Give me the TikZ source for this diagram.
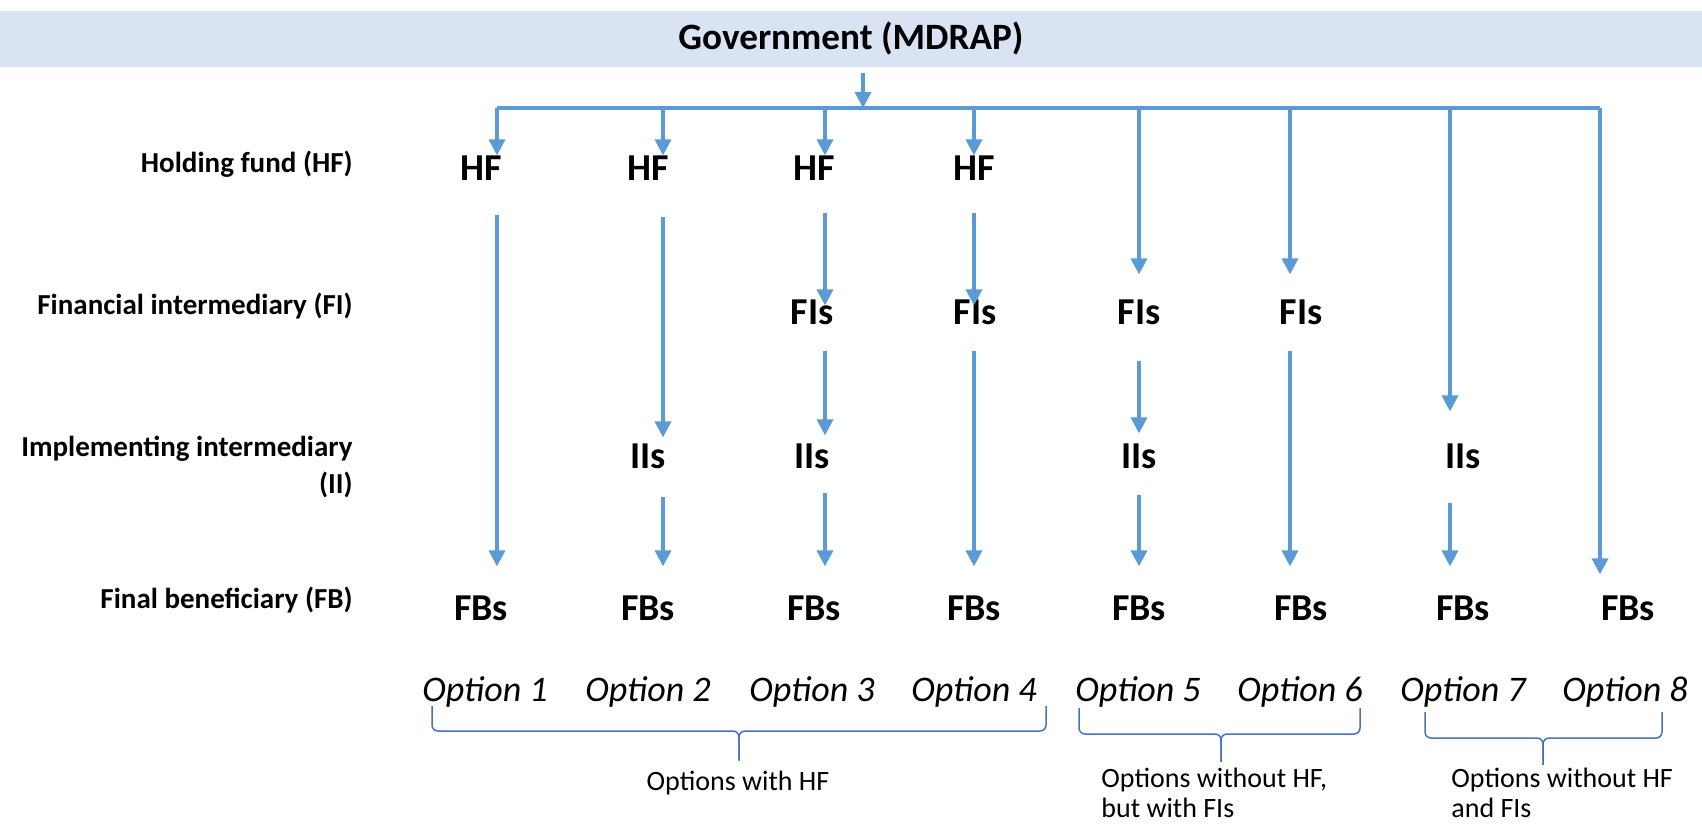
\documentclass[tikz,border=0pt]{standalone}
\usepackage{fontspec}
\setmainfont{Carlito}
\usetikzlibrary{arrows.meta}

\definecolor{flowblue}{HTML}{5B9BD5}
\definecolor{bannerblue}{HTML}{DAE3F3}
\definecolor{bracketblue}{HTML}{4472C4}

\tikzset{
  banner/.style={fill=bannerblue, minimum width=851pt, minimum height=28pt, inner sep=0pt, font=\fontsize{18.6}{20}\selectfont\bfseries},
  rowlab/.style={anchor=east, align=right, inner sep=0pt, font=\fontsize{14.5}{18.5}\selectfont\bfseries},
  lvl/.style={inner sep=0pt, text height=12.2pt, text depth=0pt, font=\fontsize{19}{20}\selectfont\bfseries},
  opt/.style={inner sep=0pt, font=\fontsize{18}{20}\selectfont\itshape},
  grp/.style={inner sep=0pt, align=left, font=\fontsize{14}{15}\selectfont},
  flow/.style={->, draw=flowblue, line width=1.75pt},
  bus/.style={draw=flowblue, line width=1.75pt},
  brk/.style={draw=bracketblue, line width=0.75pt, rounded corners=3pt},
}

\begin{document}
\begin{tikzpicture}[x=0.5pt, y=-0.5pt, >={Triangle[length=8pt,width=8pt]}]
\useasboundingbox (0,0) rectangle (1702,825);

% top
\node[banner] (gov) at (851,39) {Government (MDRAP)};
\coordinate (top) at (863,108);
\foreach \i/\x in {1/497,2/663,3/825,4/974,5/1139,6/1290,7/1450,8/1600}
  \coordinate (b\i) at (\x,108);

% row labels
\node[rowlab] (lhf) at (353,164) {Holding fund (HF)};
\node[rowlab] (lfi) at (353,306) {Financial intermediary (FI)};
\node[rowlab] (lii) at (353,467) {Implementing intermediary\\(II)};
\node[rowlab] (lfb) at (353,600) {Final beneficiary (FB)};

% levels
\foreach \i/\x in {1/481,2/648,3/814,4/974}
  \node[lvl] (hf\i) at (\x,168) {HF};
\foreach \i/\x in {3/812,4/975,5/1139,6/1301}
  \node[lvl] (fi\i) at (\x,312) {FIs};
\foreach \i/\x in {2/648,3/812,5/1139,7/1463}
  \node[lvl] (ii\i) at (\x,456) {IIs};
\foreach \i/\x in {1/481,2/648,3/814,4/974,5/1139,6/1301,7/1463,8/1628}
  \node[lvl] (fb\i) at (\x,608) {FBs};
\foreach \i/\x in {1/485,2/648,3/812,4/974,5/1138,6/1300,7/1463,8/1625}
  \node[opt] (opt\i) at (\x,692) {Option \i};

% flows
\draw[flow, shorten <=3pt] (gov.south -| top) -- (top);
\draw[bus] (b1) -- (b8);
\foreach \i in {1,...,4}
  \draw[flow] (b\i) -- (b\i |- hf\i.north);
\draw[flow, shorten >=12.5pt] (b5) -- (b5 |- fi5.north);
\draw[flow, shorten >=12.5pt] (b6) -- (b6 |- fi6.north);
\draw[flow, shorten >=16pt] (b7) -- (b7 |- ii7.north);
\draw[flow, shorten >=10.5pt] (b8) -- (b8 |- fb8.north);

\draw[flow, shorten <=17pt, shorten >=14.5pt] (b1 |- hf1.south) -- (b1 |- fb1.north);
\draw[flow, shorten <=18pt, shorten >=3pt] (b2 |- hf2.south) -- (b2 |- ii2.north);
\draw[flow, shorten <=14pt, shorten >=14.5pt] (b2 |- ii2.south) -- (b2 |- fb2.north);
\draw[flow, shorten <=16pt, shorten >=-3pt] (b3 |- hf3.south) -- (b3 |- fi3.north);
\draw[flow, shorten <=13pt, shorten >=4pt] (b3 |- fi3.south) -- (b3 |- ii3.north);
\draw[flow, shorten <=12pt, shorten >=14.5pt] (b3 |- ii3.south) -- (b3 |- fb3.north);
\draw[flow, shorten <=16pt, shorten >=-3pt] (b4 |- hf4.south) -- (b4 |- fi4.north);
\draw[flow, shorten <=13pt, shorten >=14.5pt] (b4 |- fi4.south) -- (b4 |- fb4.north);
\draw[flow, shorten <=18pt, shorten >=5pt] (b5 |- fi5.south) -- (b5 |- ii5.north);
\draw[flow, shorten <=13pt, shorten >=14.5pt] (b5 |- ii5.south) -- (b5 |- fb5.north);
\draw[flow, shorten <=13pt, shorten >=14.5pt] (b6 |- fi6.south) -- (b6 |- fb6.north);
\draw[flow, shorten <=17pt, shorten >=14.5pt] (b7 |- ii7.south) -- (b7 |- fb7.north);

% groups
\node[grp] (grp1) at (738,783) {Options with HF};
\node[grp, anchor=west] (grp2) at (1101,793) {Options without HF,\\but with FIs};
\node[grp, anchor=west] (grp3) at (1451,793) {Options without HF\\and FIs};

\coordinate (m1) at (739,731);
\coordinate (m2) at (1221,734);
\coordinate (m3) at (1543,738);
\draw[brk] (432,706) -- (432,731) -- (m1) -- ([yshift=5pt]m1 |- grp1.north);
\draw[brk] (1046,706) -- (1046,731) -- (m1) -- ([yshift=5pt]m1 |- grp1.north);
\draw[brk] (1079,708) -- (1079,734) -- (m2) -- ([yshift=3pt]m2 |- grp2.north);
\draw[brk] (1360,708) -- (1360,734) -- (m2) -- ([yshift=3pt]m2 |- grp2.north);
\draw[brk] (1425,712) -- (1425,738) -- (m3) -- ([yshift=1.5pt]m3 |- grp3.north);
\draw[brk] (1662,712) -- (1662,738) -- (m3) -- ([yshift=1.5pt]m3 |- grp3.north);
\end{tikzpicture}
\end{document}
